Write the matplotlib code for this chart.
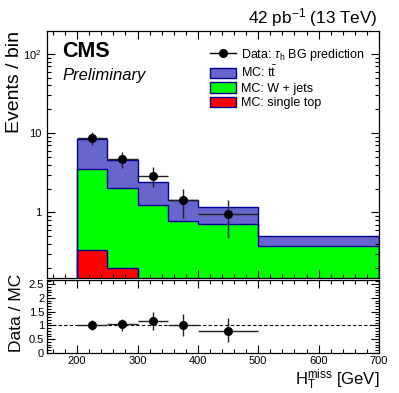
import matplotlib
matplotlib.use('Agg')
import matplotlib.pyplot as plt
import numpy as np
from matplotlib.ticker import FixedLocator, MultipleLocator, FuncFormatter, NullFormatter
from matplotlib.lines import Line2D
from matplotlib.patches import Patch

plt.rcParams['font.family'] = ['Liberation Sans', 'DejaVu Sans']
plt.rcParams['mathtext.fontset'] = 'custom'
plt.rcParams['mathtext.rm'] = 'Liberation Sans'
plt.rcParams['mathtext.it'] = 'Liberation Sans:italic'
plt.rcParams['mathtext.bf'] = 'Liberation Sans:bold'

# ---- data ----
bin_edges = [200, 250, 300, 350, 400, 500, 700]
single_top = [0.33, 0.20, 0.0, 0.0, 0.0, 0.0]
wjets = [3.17, 1.81, 1.23, 0.776, 0.711, 0.371]
ttbar = [5.05, 2.62, 1.21, 0.64, 0.45, 0.126]

data_x = [225, 275, 325, 375, 450]
data_xerr = [25, 25, 25, 25, 50]
data_y = [8.7, 4.73, 2.90, 1.42, 0.96]
data_up = [10.2, 5.77, 3.78, 1.99, 1.43]
data_down = [7.1, 3.6, 2.07, 0.86, 0.48]

ratio_y = [1.00, 1.04, 1.17, 1.00, 0.81]
ratio_up = [1.18, 1.24, 1.48, 1.43, 1.27]
ratio_down = [0.82, 0.78, 0.82, 0.60, 0.39]

# ---- style ----
c_tt = '#6666cc'
c_wj = '#00ff00'
c_st = '#ff0000'
c_edge = '#000099'

fig = plt.figure(figsize=(3.99, 3.93), dpi=100)
left, width = 47/399, 332/399
ax = fig.add_axes([left, 1-278.3/393, width, (278.3-31)/393])
rax = fig.add_axes([left, 1-352.8/393, width, (352.8-280)/393])

edges = np.array(bin_edges, dtype=float)
floor = 1e-3
layers = [(single_top, c_st), (wjets, c_wj), (ttbar, c_tt)]
cum = np.zeros(len(single_top))
tops = []
for vals, col in layers:
    cum = cum + np.array(vals)
    tops.append((np.where(cum > 0, cum, floor), col))
for top, col in reversed(tops):
    ax.stairs(top, edges, baseline=floor, fill=True, facecolor=col, edgecolor='none', zorder=1)
for top, col in reversed(tops):
    ax.stairs(top, edges, baseline=floor, fill=False, edgecolor=c_edge, lw=1.0, zorder=2)

dy = np.array(data_y)
ax.errorbar(data_x, dy, xerr=data_xerr,
            yerr=[dy - np.array(data_down), np.array(data_up) - dy],
            fmt='o', color='black', ecolor='#222222', ms=5.5, elinewidth=1.0,
            capsize=0, zorder=5)

ax.set_yscale('log')
ax.set_xlim(150, 700)
ax.set_ylim(0.147, 195)
ax.yaxis.set_major_locator(FixedLocator([1, 10, 100]))
ax.yaxis.set_minor_locator(FixedLocator([m * 10.0**e for e in (-1, 0, 1, 2) for m in range(2, 10)]))
labs = {1: '1', 10: '10', 100: '10$^{2}$'}
ax.yaxis.set_major_formatter(FuncFormatter(lambda v, p: labs.get(int(round(v)), '')))
ax.yaxis.set_minor_formatter(NullFormatter())
ax.xaxis.set_major_locator(MultipleLocator(100))
ax.xaxis.set_minor_locator(MultipleLocator(20))
ax.tick_params(axis='x', labelbottom=False)

for a in (ax, rax):
    a.tick_params(which='both', direction='in', top=True, right=True, width=0.8, labelsize=8)
    a.tick_params(which='major', length=5.5)
    a.tick_params(which='minor', length=2.8)
    for s in a.spines.values():
        s.set_linewidth(0.9)
ax.tick_params(axis='y', pad=4)

ax.set_ylabel('Events / bin', fontsize=14, loc='top')
ax.yaxis.set_label_coords(-0.072, 1.0)

ax.text(0.045, 0.895, 'CMS', transform=ax.transAxes, fontsize=15.5, fontweight='bold', va='baseline')
ax.text(0.048, 0.80, 'Preliminary', transform=ax.transAxes, fontsize=12, style='italic', va='baseline')
fig.text(378/399, 1-23.5/393, '42 pb$^{-1}$ (13 TeV)', ha='right', va='baseline', fontsize=12.3)

handles = [Line2D([], [], color='black', marker='o', ms=5.5, lw=1.0),
           Patch(facecolor=c_tt, edgecolor=c_edge, lw=1.0),
           Patch(facecolor=c_wj, edgecolor=c_edge, lw=1.0),
           Patch(facecolor=c_st, edgecolor=c_edge, lw=1.0)]
labels = [r'Data: $\tau_{\mathrm{h}}$ BG prediction', r'MC: t$\bar{\mathrm{t}}$', 'MC: W + jets', 'MC: single top']
ax.legend(handles, labels, loc='upper left', bbox_to_anchor=(210/399, 1-47/393),
          bbox_transform=fig.transFigure, frameon=False, fontsize=9,
          borderpad=0, borderaxespad=0, handlelength=2.1, handleheight=0.88,
          handletextpad=0.4, labelspacing=0.16)

# ratio panel
ry = np.array(ratio_y)
rax.axhline(1.0, color='black', lw=0.8, dashes=(3, 2), zorder=1)
rax.errorbar(data_x, ry, xerr=data_xerr,
             yerr=[ry - np.array(ratio_down), np.array(ratio_up) - ry],
             fmt='o', color='black', ecolor='#222222', ms=5.5, elinewidth=1.0,
             capsize=0, zorder=5)
rax.set_xlim(150, 700)
rax.set_ylim(0, 2.65)
rax.xaxis.set_major_locator(MultipleLocator(100))
rax.xaxis.set_minor_locator(MultipleLocator(20))
rax.xaxis.set_major_formatter(FuncFormatter(lambda v, p: '' if v < 200 else '%d' % v))
rax.yaxis.set_major_locator(MultipleLocator(0.5))
rax.yaxis.set_minor_locator(MultipleLocator(0.1))
rax.yaxis.set_major_formatter(FuncFormatter(lambda v, p: '%g' % v))
rax.tick_params(axis='y', pad=2)
rax.tick_params(axis='x', pad=2.5)
rax.set_ylabel('Data / MC', fontsize=12.5)
rax.yaxis.set_label_coords(-0.068, 0.55)
rax.set_xlabel(r'H$_{\mathrm{T}}^{\mathrm{miss}}$ [GeV]', fontsize=12, loc='right', labelpad=1)

fig.savefig('out.png', dpi=100)
